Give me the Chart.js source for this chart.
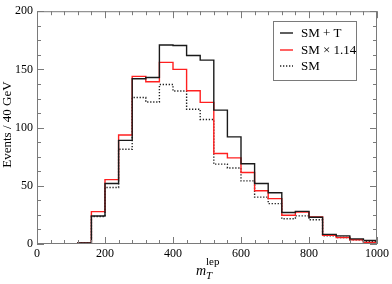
<!DOCTYPE html>
<html>
<head>
<meta charset="utf-8">
<script src="https://cdn.jsdelivr.net/npm/chart.js@4"></script>
<style>
  html, body { margin: 0; padding: 0; background: #fff; }
  #wrap { width: 392px; height: 284px; }
</style>
</head>
<body>
<div id="wrap"><canvas id="histChart" width="392" height="284"></canvas></div>
<script>
// ===================================
// Data (bins of 40 GeV, left edges)
// ===================================
const binEdges = [0, 40, 80, 120, 160, 200, 240, 280, 320, 360, 400, 440, 480,
  520, 560, 600, 640, 680, 720, 760, 800, 840, 880, 920, 960, 1000];

const smPlusT = [0, 0, 0, 1, 24, 52, 89, 142, 143, 171, 170.5, 162, 158,
  115, 92, 69, 52, 44, 27, 28, 23, 8.3, 7, 4.4, 3];
const smScaled = [0, 0, 0, 1, 27.8, 55.3, 93.6, 144, 139.4, 156, 150, 131.7, 121.7,
  77.8, 74, 61.4, 45.8, 39, 24.7, 27.5, 23.3, 7.5, 5.6, 3.6, 1.4];
const smOnly = [0, 0, 0, 1, 23.6, 48.6, 81.4, 125.8, 122, 137, 131.4, 115.8, 107,
  68.6, 65.3, 54.2, 40.3, 34.7, 21.7, 24.2, 20.8, 7, 5.6, 3.6, 2];

const seriesLabels = ["SM + T", "SM \u00d7 1.14", "SM"];
const xTicks = [0, 200, 400, 600, 800, 1000];
const yTicks = [0, 50, 100, 150, 200];

const SERIF = "'Liberation Serif', 'DejaVu Serif', serif";
const FRAME = "#7a7a7a";

// turn bin values into step points (last value repeated at the right edge)
function toSteps(values) {
  const pts = values.map((v, i) => ({ x: binEdges[i], y: v }));
  pts.push({ x: binEdges[values.length], y: values[values.length - 1] });
  return pts;
}

// ===================================
// Frame, ticks, legend, x title
// ===================================
const decorPlugin = {
  id: "decor",
  afterDraw(chart) {
    const { ctx, chartArea: a, scales } = chart;
    const xs = scales.x, ys = scales.y;
    ctx.save();
    ctx.strokeStyle = FRAME;
    ctx.lineWidth = 1;
    ctx.strokeRect(a.left + 0.5, a.top + 0.5, a.right - a.left - 1, a.bottom - a.top - 1);

    // x ticks (bottom + top), minor every 40
    for (let v = 0; v <= 1000; v += 40) {
      const px = Math.round(xs.getPixelForValue(v)) + 0.5;
      const len = v % 200 === 0 ? 7 : 4;
      ctx.beginPath();
      ctx.moveTo(px, a.bottom); ctx.lineTo(px, a.bottom - len);
      ctx.moveTo(px, a.top); ctx.lineTo(px, a.top + len);
      ctx.stroke();
    }
    // y ticks (left + right), minor every 12.5
    for (let v = 0; v <= 200; v += 12.5) {
      const py = Math.round(ys.getPixelForValue(v)) + 0.5;
      const len = v % 50 === 0 ? 7 : 4;
      ctx.beginPath();
      ctx.moveTo(a.left, py); ctx.lineTo(a.left + len, py);
      ctx.moveTo(a.right, py); ctx.lineTo(a.right - len, py);
      ctx.stroke();
    }

    // legend box
    const bx = 273.5, by = 21.5, bw = 83, bh = 59;
    ctx.fillStyle = "#fff";
    ctx.fillRect(bx, by, bw, bh);
    ctx.strokeStyle = FRAME;
    ctx.strokeRect(bx, by, bw, bh);
    const rows = [33, 50, 66];
    chart.data.datasets.forEach((ds, i) => {
      ctx.strokeStyle = ds.borderColor;
      ctx.lineWidth = ds.borderWidth;
      ctx.setLineDash(ds.borderDash || []);
      ctx.beginPath();
      ctx.moveTo(280, rows[i]); ctx.lineTo(293, rows[i]);
      ctx.stroke();
      ctx.setLineDash([]);
      ctx.fillStyle = "#000";
      ctx.font = "13px " + SERIF;
      ctx.textBaseline = "middle";
      ctx.fillText(ds.label, 301, rows[i] + 1);
    });

    // x axis title: m_T^lep
    ctx.fillStyle = "#000";
    ctx.textBaseline = "alphabetic";
    ctx.font = "italic 14px " + SERIF;
    ctx.fillText("m", 196, 275);
    ctx.font = "11px " + SERIF;
    ctx.fillText("lep", 206, 265);
    ctx.font = "italic 11px " + SERIF;
    ctx.fillText("T", 206, 279);

    // y axis title
    ctx.save();
    ctx.translate(11, (a.top + a.bottom) / 2 - 3);
    ctx.rotate(-Math.PI / 2);
    ctx.textAlign = "center";
    ctx.font = "13px " + SERIF;
    ctx.fillText("Events / 40 GeV", 0, 0);
    ctx.restore();

    ctx.restore();
  },
};

// ===================================
// Chart
// ===================================
const ctx = document.getElementById("histChart").getContext("2d");
new Chart(ctx, {
  type: "line",
  data: {
    datasets: [
      { label: seriesLabels[0], data: toSteps(smPlusT), borderColor: "#1a1a1a", borderWidth: 1.4 },
      { label: seriesLabels[1], data: toSteps(smScaled), borderColor: "#ff2020", borderWidth: 1.4 },
      { label: seriesLabels[2], data: toSteps(smOnly), borderColor: "#222", borderWidth: 1.4, borderDash: [1.3, 1.7] },
    ].map((d) => Object.assign(d, { stepped: "before", pointRadius: 0, fill: false })),
  },
  options: {
    responsive: false,
    animation: false,
    layout: { padding: { top: 4, right: 13, left: 0, bottom: 0 } },
    plugins: { legend: { display: false }, tooltip: { enabled: false } },
    scales: {
      x: {
        type: "linear",
        min: 0,
        max: 1000,
        afterFit: (s) => { s.height = 40; },
        afterBuildTicks: (s) => { s.ticks = xTicks.map((v) => ({ value: v })); },
        grid: { display: false, drawTicks: false },
        border: { display: false },
        ticks: {
          color: "#000",
          padding: 3,
          maxRotation: 0,
          font: { family: SERIF, size: 12 },
          callback: (v) => String(v),
        },
      },
      y: {
        min: 0,
        max: 200,
        afterFit: (s) => { s.width = 37; },
        afterBuildTicks: (s) => { s.ticks = yTicks.map((v) => ({ value: v })); },
        grid: { display: false, drawTicks: false },
        border: { display: false },
        ticks: {
          color: "#000",
          padding: 4,
          font: { family: SERIF, size: 12 },
          callback: (v) => String(v),
        },
      },
    },
  },
  plugins: [decorPlugin],
});
</script>
</body>
</html>
